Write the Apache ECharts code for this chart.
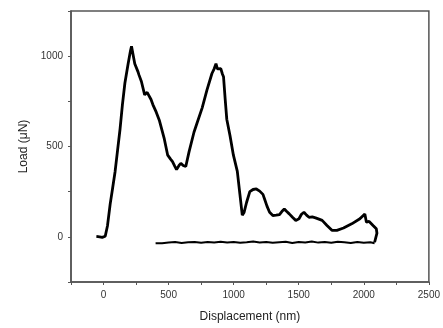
<!DOCTYPE html>
<html>
<head>
<meta charset="utf-8">
<script src="https://cdn.jsdelivr.net/npm/echarts@6/dist/echarts.min.js"></script>
<style>html,body{margin:0;padding:0;background:#fff}#c{width:443px;height:328px}</style>
</head>
<body>
<div id="c"></div>
<script>
const loadX = [-55,-30,-10,13,30,51,70,89,108,127,145,164,189,207,215,240,265,273,291,316,335,348,365,379,405,430,467,493,515,530,548,561,580,594,612,632,657,695,720,758,795,833,850,864,875,884,901,914,922,935,947,972,998,1028,1048,1066,1080,1099,1124,1149,1174,1200,1225,1238,1256,1276,1301,1326,1352,1370,1389,1408,1427,1452,1477,1502,1521,1540,1560,1579,1604,1629,1655,1680,1717,1755,1793,1844,1907,1970,2008,2020,2041,2071,2096,2101,2096,2083];
const loadY = [2,0,-3,3,60,181,270,362,480,597,730,850,958,1030,1055,958,913,895,860,786,800,805,760,732,690,642,542,452,430,416,390,372,395,407,395,389,470,579,633,714,813,904,930,958,930,922,931,900,886,760,651,560,452,362,235,120,135,190,250,262,265,253,235,208,170,136,118,120,123,140,154,140,127,108,91,100,125,136,120,108,110,105,98,91,63,36,36,49,72,100,127,81,85,63,45,20,9,-30];
const unloadX = [2083,2050,2000,1950,1900,1850,1800,1750,1700,1650,1600,1550,1500,1450,1400,1350,1300,1250,1200,1150,1100,1050,1000,950,900,850,800,750,700,650,600,550,500,450,400];
const unloadY = [-36,-30,-33,-28,-34,-30,-27,-33,-29,-32,-26,-31,-28,-34,-27,-30,-33,-29,-31,-26,-30,-33,-28,-31,-27,-32,-29,-33,-28,-30,-34,-29,-31,-35,-36];
const xTicks = [0,500,1000,1500,2000,2500];
const yTicks = [0,500,1000];

const pair = (xs, ys) => xs.map((x, i) => [x, ys[i]]);
const font = '"Liberation Sans", Arial, sans-serif';
const axisCol = '#555';

const chart = echarts.init(document.getElementById('c'), null, {renderer: 'canvas'});
chart.setOption({
  animation: false,
  grid: {left: 71, right: 10, top: 11, bottom: 40, show: true, borderColor: axisCol, borderWidth: 1.5, backgroundColor: 'transparent'},
  xAxis: [{
    type: 'value', min: -250, max: 2500, interval: 250, position: 'bottom',
    name: 'Displacement (nm)', nameLocation: 'middle', nameGap: 29,
    nameTextStyle: {fontFamily: font, fontSize: 12, color: '#222'},
    axisLine: {show: true, onZero: false, lineStyle: {color: axisCol, width: 1.5}},
    axisTick: {show: true, inside: false, length: 3, lineStyle: {color: axisCol}},
    axisLabel: {margin: 8, fontFamily: font, fontSize: 10, color: '#333',
      formatter: v => xTicks.includes(v) ? String(v) : ''},
    splitLine: {show: false}
  }],
  yAxis: [{
    type: 'value', min: -250, max: 1250, interval: 250, position: 'left',
    name: 'Load (μN)', nameLocation: 'middle', nameGap: 27,
    nameTextStyle: {fontFamily: font, fontSize: 12, color: '#222'},
    axisLine: {show: true, onZero: false, lineStyle: {color: axisCol, width: 1.5}},
    axisTick: {show: true, inside: false, length: 3, lineStyle: {color: axisCol}},
    axisLabel: {margin: 8, fontFamily: font, fontSize: 10, color: '#333',
      formatter: v => yTicks.includes(v) ? String(v) : ''},
    splitLine: {show: false}
  }],
  series: [
    {type: 'line', data: pair(loadX, loadY), symbol: 'none', lineStyle: {color: '#000', width: 2.8}},
    {type: 'line', data: pair(unloadX, unloadY), symbol: 'none', lineStyle: {color: '#000', width: 2}}
  ]
});
</script>
</body>
</html>
